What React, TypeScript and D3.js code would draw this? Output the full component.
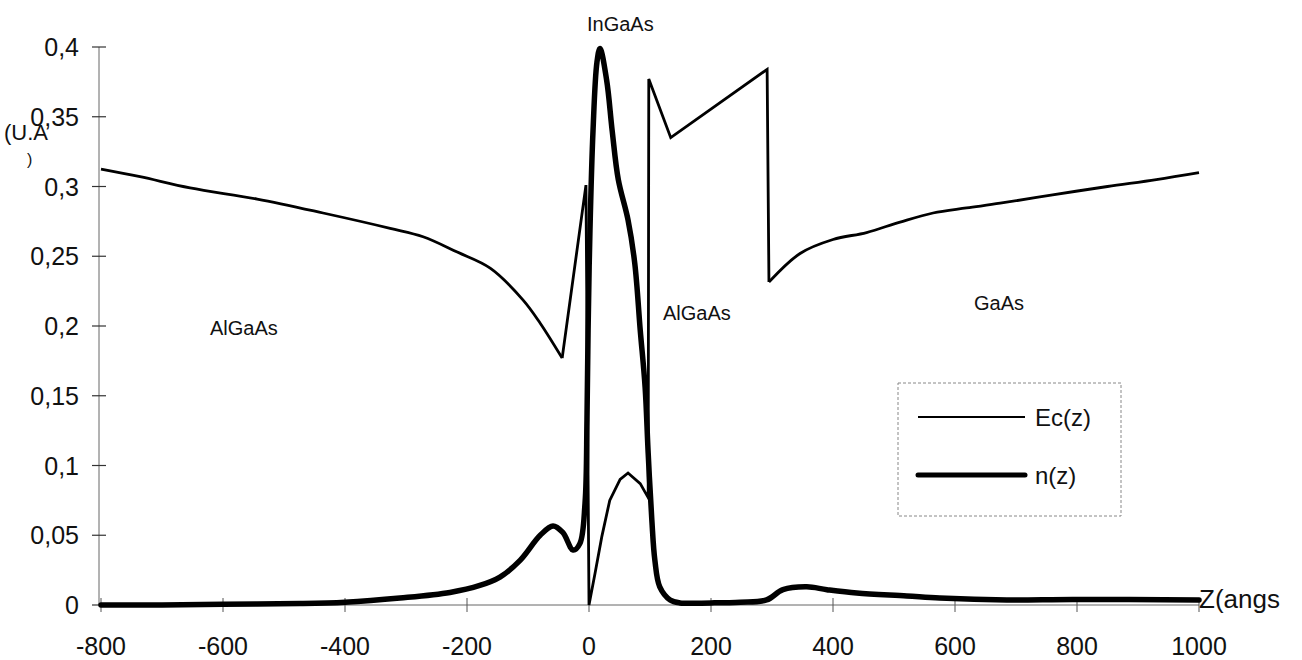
import React from "react";
import * as d3 from "d3";

// Conduction band edge Ec(z) across the heterostructure (z in angstroms)
const zEc = [-800, -736, -654, -544, -436, -326, -272, -216, -162, -108, -80, -44, -5, 0, 10, 21, 34, 51, 64, 84, 97, 98, 134, 292, 295, 346, 400, 455, 510, 564, 619, 674, 760, 850, 930, 1000];
const ecValues = [0.3125, 0.307, 0.299, 0.291, 0.281, 0.27, 0.264, 0.253, 0.2415, 0.2186, 0.202, 0.177, 0.301, 0, 0.023, 0.049, 0.075, 0.09, 0.0946, 0.087, 0.077, 0.377, 0.335, 0.384, 0.2315, 0.252, 0.262, 0.267, 0.2745, 0.281, 0.2846, 0.288, 0.294, 0.3, 0.305, 0.31];

// Electron density n(z)
const zN = [-800, -700, -600, -474, -400, -310, -228, -179, -146, -113, -80, -59, -43, -26, -15, -6.5, -3.3, -1.5, 1.6, 6.6, 13, 18, 29, 38, 48, 64, 75, 84, 92, 97, 103, 108, 116, 133, 149, 200, 248, 291, 318, 357, 390, 439, 521, 575, 685, 793, 1000];
const nValues = [0, 0, 0.0005, 0.001, 0.002, 0.005, 0.009, 0.014, 0.02, 0.032, 0.05, 0.0566, 0.052, 0.0394, 0.044, 0.073, 0.133, 0.197, 0.269, 0.34, 0.389, 0.399, 0.376, 0.34, 0.305, 0.276, 0.245, 0.197, 0.156, 0.109, 0.061, 0.032, 0.013, 0.0036, 0.0015, 0.0015, 0.002, 0.0036, 0.011, 0.013, 0.011, 0.0086, 0.0065, 0.005, 0.0036, 0.004, 0.0036];

const xTicks = [-800, -600, -400, -200, 0, 200, 400, 600, 800, 1000];
const yTicks = [0, 0.05, 0.1, 0.15, 0.2, 0.25, 0.3, 0.35, 0.4];
const yTickLabels = ["0", "0,05", "0,1", "0,15", "0,2", "0,25", "0,3", "0,35", "0,4"];

const regionLabels = [
  { text: "InGaAs", x: 587, y: 31 },
  { text: "AlGaAs", x: 210, y: 335 },
  { text: "AlGaAs", x: 663, y: 320 },
  { text: "GaAs", x: 974, y: 310 },
];

const FONT = "'Liberation Sans', Arial, sans-serif";

type Pt = [number, number];

export default function App() {
  const x = d3.scaleLinear().domain([-800, 1000]).range([101, 1199]);
  const y = d3.scaleLinear().domain([0, 0.4]).range([605, 47]);

  const ecPts: Pt[] = zEc.map((z, i) => [z, ecValues[i]]);
  // The smooth AlGaAs / GaAs branches are curved, the jumps and kinks stay sharp.
  const leftEnd = zEc.indexOf(-44);
  const rightStart = zEc.indexOf(295);
  const smooth = d3
    .line<Pt>()
    .x((d) => x(d[0]))
    .y((d) => y(d[1]))
    .curve(d3.curveCatmullRom.alpha(0.5));
  const straight = d3
    .line<Pt>()
    .x((d) => x(d[0]))
    .y((d) => y(d[1]))
    .curve(d3.curveLinear);
  const ecPaths = [
    smooth(ecPts.slice(0, leftEnd + 1)),
    straight(ecPts.slice(leftEnd, rightStart + 1)),
    smooth(ecPts.slice(rightStart)),
  ];

  const nLine = d3
    .line<number>()
    .x((_, i) => x(zN[i]))
    .y((d) => y(d))
    .curve(d3.curveCatmullRom.alpha(0.5));

  return (
    <svg
      width={1302}
      height={660}
      style={{ position: "absolute", left: 0, top: 0, background: "#fff" }}
      fontFamily={FONT}
    >
      {/* y axis */}
      <line x1={99} x2={99} y1={y(0.4)} y2={y(0)} stroke="#666" strokeWidth={1} />
      {yTicks.map((t, i) => (
        <g key={"yt" + i}>
          <line x1={92} x2={106} y1={y(t)} y2={y(t)} stroke="#333" strokeWidth={1.2} />
          <text x={79} y={y(t)} dy="0.36em" textAnchor="end" fontSize={25} fill="#111">
            {yTickLabels[i]}
          </text>
        </g>
      ))}

      {/* x axis */}
      <line x1={x(-800)} x2={x(1000)} y1={y(0)} y2={y(0)} stroke="#666" strokeWidth={1} />
      {xTicks.map((t) => (
        <g key={"xt" + t}>
          <line x1={x(t)} x2={x(t)} y1={y(0) - 7} y2={y(0) + 7} stroke="#555" strokeWidth={1} />
          <text x={x(t)} y={655} textAnchor="middle" fontSize={25} fill="#111">
            {t}
          </text>
        </g>
      ))}

      {/* axis titles */}
      <text x={4} y={140} fontSize={22} fill="#111">(U.A</text>
      <text x={27} y={165} fontSize={16} fill="#111">)</text>
      <text x={1199} y={608} fontSize={26} fill="#111">Z(angs</text>

      {/* curves */}
      {ecPaths.map((d, i) => (
        <path key={"ec" + i} d={d ?? ""} fill="none" stroke="#000" strokeWidth={2.8} strokeLinejoin="miter" />
      ))}
      <path d={nLine(nValues) ?? ""} fill="none" stroke="#000" strokeWidth={5.5} strokeLinejoin="round" strokeLinecap="round" />

      {/* region labels */}
      {regionLabels.map((r, i) => (
        <text key={"rl" + i} x={r.x} y={r.y} fontSize={20} fill="#111">
          {r.text}
        </text>
      ))}

      {/* legend */}
      <rect x={898} y={383} width={223} height={133} fill="none" stroke="#888" strokeWidth={1} strokeDasharray="3 2" />
      <line x1={918} x2={1025} y1={417} y2={417} stroke="#000" strokeWidth={2} />
      <text x={1035} y={417} dy="0.36em" fontSize={24} fill="#111">Ec(z)</text>
      <line x1={918} x2={1025} y1={475} y2={475} stroke="#000" strokeWidth={5} strokeLinecap="round" />
      <text x={1035} y={475} dy="0.36em" fontSize={24} fill="#111">n(z)</text>
    </svg>
  );
}
